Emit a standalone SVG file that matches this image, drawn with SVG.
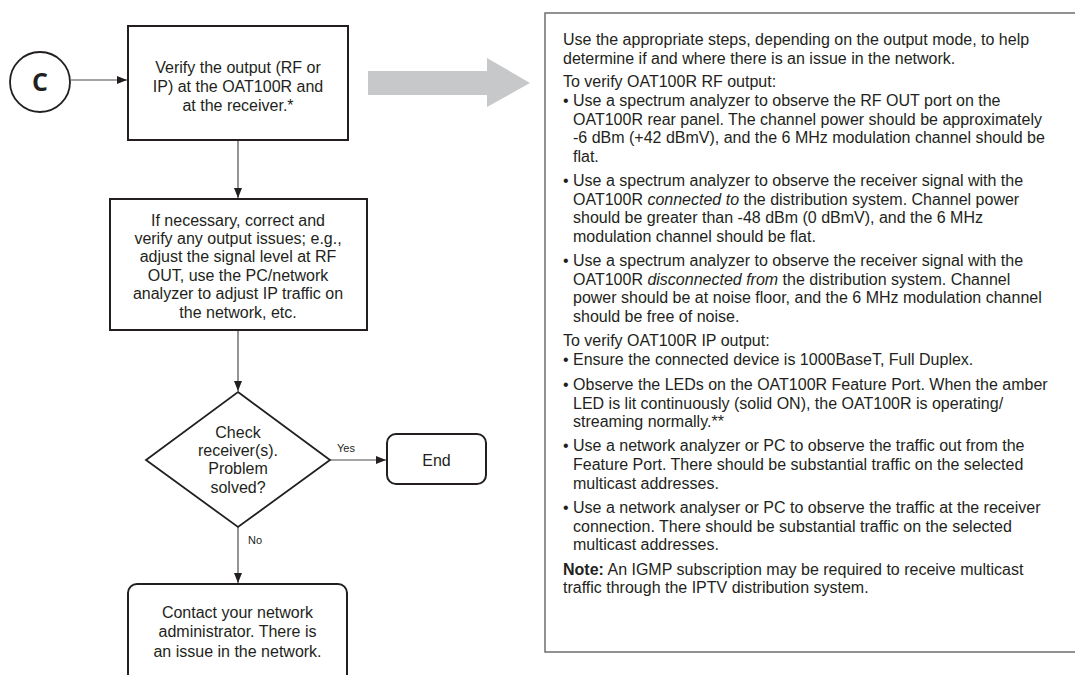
<svg xmlns="http://www.w3.org/2000/svg" width="1075" height="675" viewBox="0 0 1075 675">
<defs>
<marker id="ah" markerUnits="userSpaceOnUse" markerWidth="10" markerHeight="10" viewBox="0 0 10 10" refX="10" refY="5" orient="auto">
<path d="M0,1 L10,5 L0,9 Z" fill="#231f20"/>
</marker>
<style>
.box{fill:#fff;stroke:#231f20;stroke-width:2}
.t{font-family:"Liberation Sans",Arial,Helvetica,sans-serif;font-size:16px;fill:#231f20}
.c{text-anchor:middle}
.s{font-family:"Liberation Sans",Arial,Helvetica,sans-serif;font-size:11px;fill:#231f20}
.conn{stroke:#4d4d4f;stroke-width:1.2;fill:none;marker-end:url(#ah)}
</style>
</defs>
<rect width="1075" height="675" fill="#fff"/>

<g id="connectors">
<line class="conn" x1="71" y1="80" x2="127" y2="80"/>
<line class="conn" x1="238" y1="141" x2="238" y2="198"/>
<line class="conn" x1="238" y1="331" x2="238" y2="391"/>
<line class="conn" x1="330" y1="460" x2="386" y2="460"/>
<line class="conn" x1="238" y1="527" x2="238" y2="583"/>
<text class="s" x="337" y="452">Yes</text>
<text class="s" x="248" y="544">No</text>
</g>

<g id="nodeC">
<circle cx="40" cy="82" r="30" fill="#fff" stroke="#231f20" stroke-width="1.8"/>
<text x="40" y="91" text-anchor="middle" font-family="'Open Sans','Liberation Sans',sans-serif" font-weight="bold" font-size="25" fill="#231f20">C</text>
</g>

<g id="verify">
<rect class="box" x="128" y="26" width="220" height="114"/>
<text class="t c" x="238" y="72.5">Verify the output (RF or</text>
<text class="t c" x="238" y="91.5">IP) at the OAT100R and</text>
<text class="t c" x="238" y="110.5">at the receiver.*</text>
</g>

<g id="correct">
<rect class="box" x="110" y="199" width="257" height="131"/>
<text class="t c" x="238" y="225.5">If necessary, correct and</text>
<text class="t c" x="238" y="243.5">verify any output issues; e.g.,</text>
<text class="t c" x="238" y="262">adjust the signal level at RF</text>
<text class="t c" x="238" y="280.5">OUT, use the PC/network</text>
<text class="t c" x="238" y="299">analyzer to adjust IP traffic on</text>
<text class="t c" x="238" y="317.5">the network, etc.</text>
</g>

<g id="check">
<polygon points="238,392 330,460 238,527 146,460" fill="#fff" stroke="#231f20" stroke-width="1.8"/>
<text class="t c" x="238" y="437.5">Check</text>
<text class="t c" x="238" y="455.5">receiver(s).</text>
<text class="t c" x="238" y="474">Problem</text>
<text class="t c" x="238" y="492.5">solved?</text>
</g>

<g id="end">
<rect class="box" x="387" y="434" width="99" height="50" rx="9"/>
<text class="t c" x="436.5" y="465.5">End</text>
</g>

<g id="contact">
<rect class="box" x="128" y="584" width="219" height="110" rx="9"/>
<text class="t c" x="237.5" y="617.5">Contact your network</text>
<text class="t c" x="237.5" y="637">administrator. There is</text>
<text class="t c" x="237.5" y="656.5">an issue in the network.</text>
</g>

<g id="bigArrow">
<polygon points="368,71 487,71 487,58 530,83 487,107 487,95 368,95" fill="#c7c8ca"/>
</g>

<g id="notes">
<rect x="545" y="13" width="545" height="639" fill="#fff" stroke="#6d6e71" stroke-width="1.5"/>
<text class="t" x="563" y="45">Use the appropriate steps, depending on the output mode, to help</text>
<text class="t" x="563" y="64">determine if and where there is an issue in the network.</text>
<text class="t" x="563" y="87">To verify OAT100R RF output:</text>
<text class="t" x="563" y="106">• Use a spectrum analyzer to observe the RF OUT port on the</text>
<text class="t" x="573" y="124.5">OAT100R rear panel. The channel power should be approximately</text>
<text class="t" x="573" y="143">-6 dBm (+42 dBmV), and the 6 MHz modulation channel should be</text>
<text class="t" x="573" y="161.5">flat.</text>
<text class="t" x="563" y="186">• Use a spectrum analyzer to observe the receiver signal with the</text>
<text class="t" x="573" y="204.5">OAT100R <tspan font-style="italic">connected to</tspan> the distribution system. Channel power</text>
<text class="t" x="573" y="223">should be greater than -48 dBm (0 dBmV), and the 6 MHz</text>
<text class="t" x="573" y="241.5">modulation channel should be flat.</text>
<text class="t" x="563" y="266">• Use a spectrum analyzer to observe the receiver signal with the</text>
<text class="t" x="573" y="284.5">OAT100R <tspan font-style="italic">disconnected from</tspan> the distribution system. Channel</text>
<text class="t" x="573" y="303">power should be at noise floor, and the 6 MHz modulation channel</text>
<text class="t" x="573" y="321.5">should be free of noise.</text>
<text class="t" x="563" y="346">To verify OAT100R IP output:</text>
<text class="t" x="563" y="365">• Ensure the connected device is 1000BaseT, Full Duplex.</text>
<text class="t" x="563" y="390">• Observe the LEDs on the OAT100R Feature Port. When the amber</text>
<text class="t" x="573" y="408.5">LED is lit continuously (solid ON), the OAT100R is operating/</text>
<text class="t" x="573" y="427">streaming normally.**</text>
<text class="t" x="563" y="451">• Use a network analyzer or PC to observe the traffic out from the</text>
<text class="t" x="573" y="470">Feature Port. There should be substantial traffic on the selected</text>
<text class="t" x="573" y="488.5">multicast addresses.</text>
<text class="t" x="563" y="513">• Use a network analyser or PC to observe the traffic at the receiver</text>
<text class="t" x="573" y="531.5">connection. There should be substantial traffic on the selected</text>
<text class="t" x="573" y="550">multicast addresses.</text>
<text class="t" x="563" y="574.5"><tspan font-weight="bold">Note:</tspan> An IGMP subscription may be required to receive multicast</text>
<text class="t" x="563" y="593">traffic through the IPTV distribution system.</text>
</g>
</svg>
